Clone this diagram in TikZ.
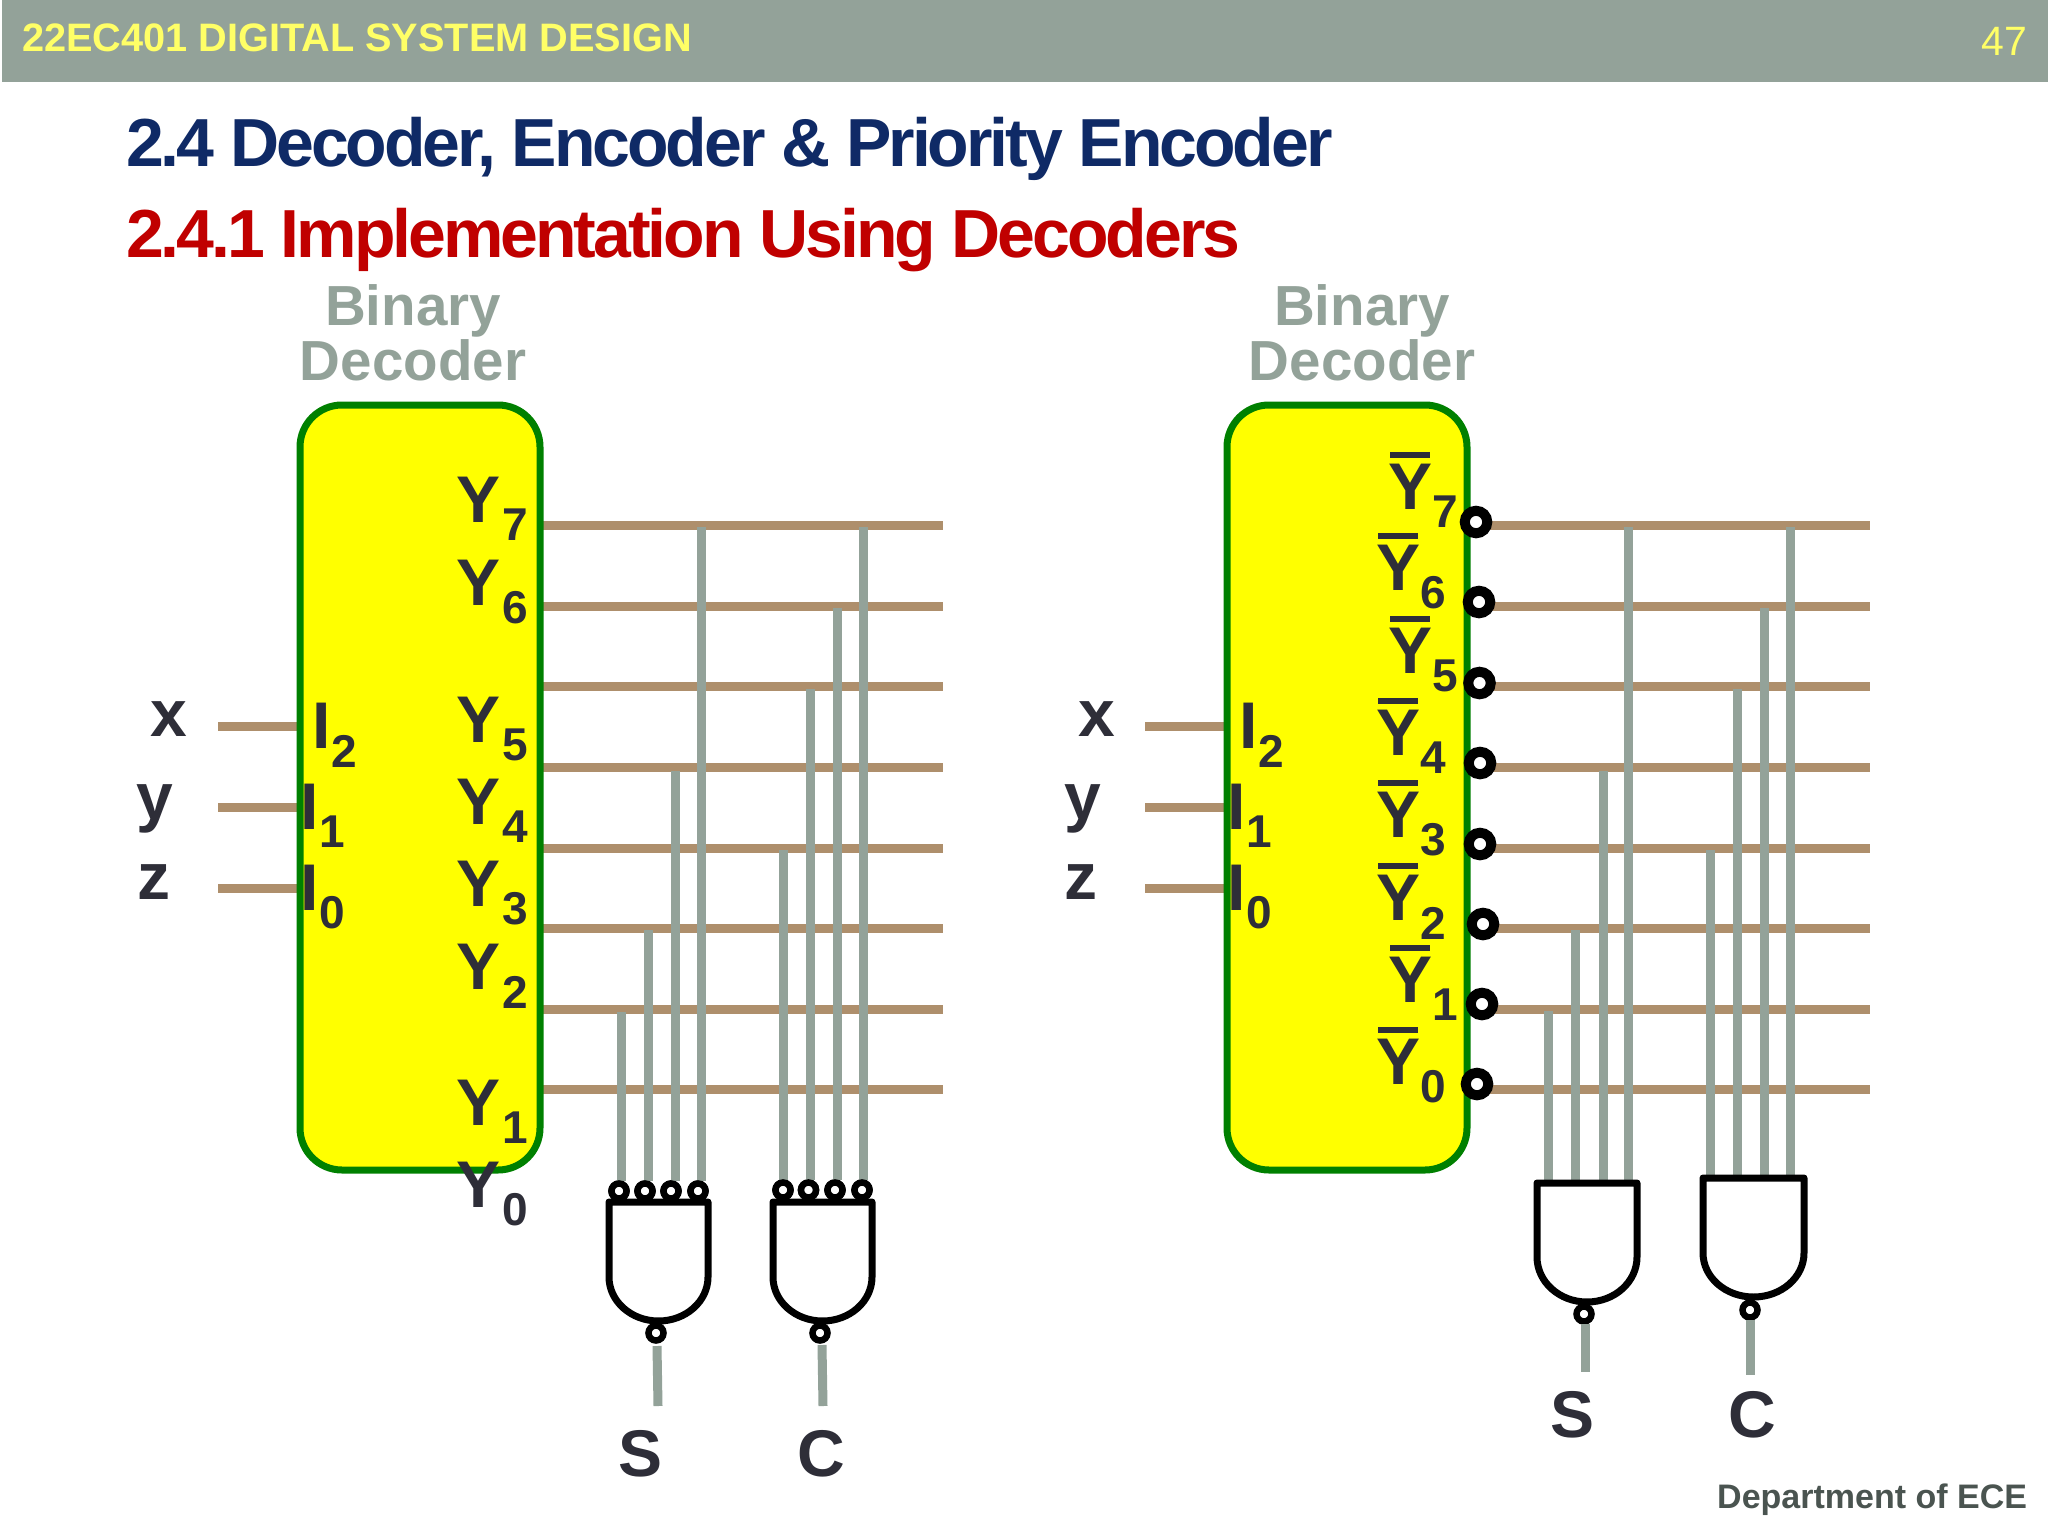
\documentclass[tikz,border=0pt]{standalone}
\usepackage{fontspec}
\setmainfont{Liberation Sans}
\newfontfamily\tightbold[LetterSpace=-4.5]{Liberation Sans Bold}
\definecolor{barcol}{HTML}{93A299}
\definecolor{wirebrown}{HTML}{AE8F6C}
\definecolor{inkcol}{HTML}{2E2E38}
\definecolor{navycol}{HTML}{0F2A66}
\definecolor{redcol}{HTML}{C00000}
\definecolor{boxgreen}{HTML}{008000}
\definecolor{boxyellow}{HTML}{FFFF00}
\definecolor{hdryellow}{HTML}{FFFF66}
\definecolor{deptcol}{HTML}{4A5450}
\tikzset{
  x=1pt,y=-1pt,
  every node/.style={inner sep=0pt,outer sep=0pt},
  hwire/.style={draw=wirebrown,line width=9pt},
  vwire/.style={draw=barcol,line width=9pt},
  decbox/.style={draw=boxgreen,fill=boxyellow,line width=7pt,rounded corners=42pt},
  gatebody/.style={draw=black,fill=white,line width=7pt,line join=round},
  tinybub/.style={circle,draw=black,fill=white,line width=6.5pt,minimum size=15pt},
  bigbub/.style={circle,draw=black,fill=white,line width=10pt,minimum size=22.5pt},
  biglab/.style={font=\fontsize{66}{66}\selectfont\bfseries,text=inkcol},
  sublab/.style={font=\fontsize{46}{46}\selectfont\bfseries,text=inkcol},
  graylab/.style={font=\fontsize{56.5}{60}\selectfont\bfseries,text=barcol,anchor=base},
  barline/.style={draw=inkcol,line width=6pt},
}
\begin{document}
\begin{tikzpicture}
\useasboundingbox (0,0) rectangle (2048,1536);
\fill[white] (0,0) rectangle (2048,1536);
% header
\fill[barcol] (2,0) rectangle (2048,82);
\node[anchor=base west,font=\fontsize{39.7}{40}\selectfont\bfseries,text=hdryellow] (hdr) at (22,52) {22EC401 DIGITAL SYSTEM DESIGN};
\node[anchor=base east,font=\fontsize{41}{41}\selectfont,text=hdryellow] (pg) at (2027,56) {47};
\node[anchor=base west,font=\fontsize{68}{68}\tightbold,text=navycol] (t1) at (126,167) {2.4 Decoder, Encoder \& Priority Encoder};
\node[anchor=base west,font=\fontsize{68}{68}\tightbold,text=redcol] (t2) at (126,257) {2.4.1 Implementation Using Decoders};
\node[anchor=base east,font=\fontsize{34}{34}\selectfont\bfseries,text=deptcol] (dept) at (2027,1508) {Department of ECE};
% group labels
\node[graylab] (bl1) at (413,325.5) {Binary};
\node[graylab] (bl2) at (413,380) {Decoder};
\node[graylab] (br1) at (1362,325.5) {Binary};
\node[graylab] (br2) at (1362,380) {Decoder};
% brown wires: input stubs + output rails
\foreach \n/\yy in {2/726,1/807,0/888}{
  \coordinate (lis\n) at (218,\yy); \coordinate (lie\n) at (298,\yy);
  \coordinate (ris\n) at (1145,\yy); \coordinate (rie\n) at (1227,\yy);
  \draw[hwire] (lis\n) -- (lie\n);
  \draw[hwire] (ris\n) -- (rie\n);
}
\foreach \n/\yy in {7/525,6/606,5/686.5,4/767,3/848,2/928.5,1/1009,0/1089.5}{
  \coordinate (lrs\n) at (540,\yy); \coordinate (lre\n) at (943,\yy);
  \coordinate (rrs\n) at (1470,\yy); \coordinate (rre\n) at (1870,\yy);
  \draw[hwire] (lrs\n) -- (lre\n);
  \draw[hwire] (rrs\n) -- (rre\n);
}
% decoder boxes
\node[decbox,minimum width=240pt,minimum height=765pt] (decL) at (420,787.5) {};
\node[decbox,minimum width=240pt,minimum height=765pt] (decR) at (1347,787.5) {};
% right bubbles
\foreach \n/\xx/\yy in {7/1476/522,6/1479/602,5/1479.5/683,4/1480/763,3/1480/844,2/1483/924,1/1482/1004,0/1477/1084}{
  \node[bigbub] (rb\n) at (\xx,\yy) {};
}
% vertical wires left
\foreach \n/\xx/\yt/\bx in {a/621/1012/619,b/648/930/645,c/675/771/671,d/701/527/698}{
  \node[tinybub] (sb\n) at (\bx,1191) {};
  \coordinate (sv\n) at (\xx,\yt); \coordinate (se\n) at (\xx,1181);
  \draw[vwire] (sv\n) -- (se\n);
}
\foreach \n/\xx/\yt/\bx in {a/783/850/783,b/810/689/808.5,c/837/608/835,d/863/527/862}{
  \node[tinybub] (cb\n) at (\bx,1190) {};
  \coordinate (cv\n) at (\xx,\yt); \coordinate (ce\n) at (\xx,1180);
  \draw[vwire] (cv\n) -- (ce\n);
}
% vertical wires right
\foreach \n/\xx/\yt in {a/1548/1011,b/1575/930,c/1603/771,d/1628/527}{
  \coordinate (tsv\n) at (\xx,\yt); \coordinate (tse\n) at (\xx,1183);
  \draw[vwire] (tsv\n) -- (tse\n);
}
\foreach \n/\xx/\yt in {a/1710/850,b/1737.5/689,c/1764/608,d/1790/527}{
  \coordinate (tcv\n) at (\xx,\yt); \coordinate (tce\n) at (\xx,1178);
  \draw[vwire] (tcv\n) -- (tce\n);
}
% gates
\draw[gatebody] (609,1202) -- (708,1202) -- (708,1277) arc[start angle=0,end angle=180,x radius=49.5pt,y radius=-44pt] -- cycle;
\draw[gatebody] (773,1202) -- (872,1202) -- (872,1277) arc[start angle=0,end angle=180,x radius=49.5pt,y radius=-44pt] -- cycle;
\draw[gatebody] (1537,1183) -- (1637,1183) -- (1637,1257) arc[start angle=0,end angle=180,x radius=50pt,y radius=-45pt] -- cycle;
\draw[gatebody] (1703,1178) -- (1804,1178) -- (1804,1253) arc[start angle=0,end angle=180,x radius=50.5pt,y radius=-44pt] -- cycle;
% bubbles of left gates on top of the gate edge
\foreach \n/\xx in {a/619,b/645,c/671,d/698}{\node[tinybub] at (\xx,1191) {};}
\foreach \n/\xx in {a/783,b/808.5,c/835,d/862}{\node[tinybub] at (\xx,1190) {};}
% outputs
\node[tinybub] (os1) at (656,1333) {};
\node[tinybub] (oc1) at (820,1333) {};
\node[tinybub] (os2) at (1584,1314) {};
\node[tinybub] (oc2) at (1750,1310) {};
\coordinate (s1a) at (657,1346); \coordinate (s1b) at (658,1406);
\coordinate (c1a) at (822,1345); \coordinate (c1b) at (823,1406);
\coordinate (s2a) at (1585,1324); \coordinate (s2b) at (1585,1372);
\coordinate (c2a) at (1750,1320); \coordinate (c2b) at (1750,1375);
\draw[vwire] (s1a) -- (s1b);
\draw[vwire] (c1a) -- (c1b);
\draw[vwire] (s2a) -- (s2b);
\draw[vwire] (c2a) -- (c2b);
\node[biglab] (lS1) at (641,1454) {S};
\node[biglab] (lC1) at (821,1454) {C};
\node[biglab] (lS2) at (1572,1415) {S};
\node[biglab] (lC2) at (1752,1415) {C};
% x y z
\foreach \nm/\t/\xa/\xb/\yy in {x/x/169/1097/736,y/y/155/1083/819,z/z/154/1081/899}{
  \node[biglab,anchor=base] (la\nm) at (\xa,\yy) {\t};
  \node[biglab,anchor=base] (ra\nm) at (\xb,\yy) {\t};
}
% I labels
\foreach \n/\xa/\yy in {2/322/726,1/310/807,0/310/888}{
  \node[biglab] (lI\n) at (\xa,\yy) {I};
  \node[sublab] (lIs\n) at (\xa+22,\yy+25) {\n};
  \node[biglab] (rI\n) at (\xa+927,\yy) {I};
  \node[sublab] (rIs\n) at (\xa+949,\yy+25) {\n};
}
% left Y labels
\foreach \n/\yy in {7/500,6/583,5/720,4/802,3/884,2/967,1/1103,0/1185}{
  \node[biglab] (lY\n) at (479,\yy) {Y};
  \node[sublab] (lYs\n) at (515,\yy+25) {\n};
}
% right Y labels with overbars
\foreach \n/\xx/\yy in {7/1410/487,6/1398/568,5/1410/651,4/1398/733,3/1398/815,2/1398/898,1/1410/980,0/1398/1062}{
  \node[biglab] (rY\n) at (\xx,\yy) {Y};
  \node[sublab] (rYs\n) at (\xx+35.5,\yy+25) {\n};
  \draw[barline] (\xx-20,\yy-32.5) -- (\xx+20,\yy-32.5);
}
\end{tikzpicture}
\end{document}
